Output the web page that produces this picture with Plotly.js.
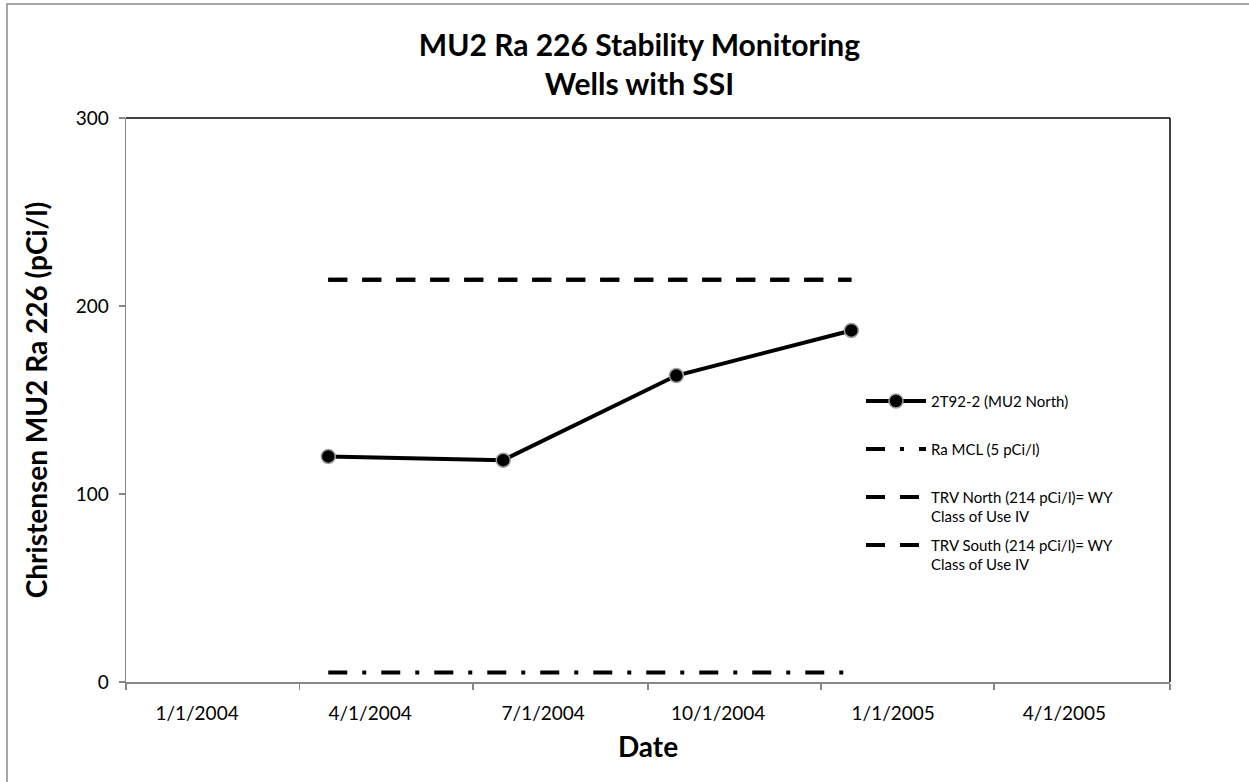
<!DOCTYPE html>
<html><head><meta charset="utf-8">
<script src="https://cdn.plot.ly/plotly-3.0.1.min.js"></script>
<style>html,body{margin:0;padding:0;background:#fff}</style>
</head><body>
<div id="chart" style="width:1249px;height:782px"></div>
<script>
// ---- data ----
const sampleDates = ['2004-03-10', '2004-06-10', '2004-09-09', '2004-12-10'];
const well2T922 = [120, 118, 163, 187];
const raMCL = [5, 5, 5, 5];
const trvNorth = [214, 214, 214, 214];
const trvSouth = [214, 214, 214, 214];
const seriesNames = [
  '2T92-2 (MU2 North)<br> ',
  'Ra MCL (5 pCi/l)<br> ',
  'TRV North (214 pCi/l)= WY<br>Class of Use IV',
  'TRV South (214 pCi/l)= WY<br>Class of Use IV'
];
const xTickDates = ['2004-01-01', '2004-04-01', '2004-07-01', '2004-10-01', '2005-01-01', '2005-04-01'];
const xTickText = ['1/1/2004', '4/1/2004', '7/1/2004', '10/1/2004', '1/1/2005', '4/1/2005'];
const xTickMarks = ['2003-11-24 16:00', '2004-02-24', '2004-05-25', '2004-08-25', '2004-11-24', '2005-02-23', '2005-05-26 12:00'];
const yTicks = [0, 100, 200, 300];

const FONT = 'Lato, "Open Sans", sans-serif';

const traces = [
  {x: sampleDates, y: well2T922, name: seriesNames[0], legendgroup: 'a', type: 'scatter', mode: 'lines+markers',
   line: {color: '#000', width: 4},
   marker: {symbol: 'circle', size: 14, color: '#000', line: {color: '#a0a0a0', width: 1.5}}},
  {x: sampleDates, y: raMCL, name: seriesNames[1], legendgroup: 'b', type: 'scatter', mode: 'lines',
   line: {color: '#000', width: 4, dash: '19px,15px,4px,15px'}},
  {x: sampleDates, y: trvNorth, name: seriesNames[2], legendgroup: 'c', type: 'scatter', mode: 'lines',
   line: {color: '#000', width: 4, dash: '19px,15px'}},
  {x: sampleDates, y: trvSouth, name: seriesNames[3], legendgroup: 'd', type: 'scatter', mode: 'lines',
   line: {color: '#000', width: 4, dash: '19px,15px'}}
];

const layout = {
  width: 1249, height: 782,
  margin: {l: 126, r: 79, t: 118, b: 100},
  paper_bgcolor: '#fff', plot_bgcolor: '#fff',
  font: {family: FONT, color: '#000'},
  showlegend: true,
  title: {text: '<b>MU2 Ra 226 Stability Monitoring<br>Wells with SSI</b>',
          font: {size: 30, family: FONT, color: '#000'},
          x: 0.512, xref: 'container', xanchor: 'center',
          y: 0.928, yref: 'container', yanchor: 'top'},
  xaxis: {
    type: 'date', range: ['2003-11-24 16:00', '2005-05-26 12:00'],
    tickmode: 'array', tickvals: xTickDates, ticktext: xTickText,
    ticks: '', ticklabelstandoff: 14,
    showgrid: false, zeroline: false,
    showline: true, linecolor: '#868686', linewidth: 1.5,
    tickfont: {size: 19, family: FONT, color: '#000'},
    minor: {tickmode: 'array', tickvals: xTickMarks, ticks: 'outside', ticklen: 6,
            tickcolor: '#868686', tickwidth: 1.5, showgrid: false},
    title: {text: '<b>Date</b>', font: {size: 28, family: FONT, color: '#000'}, standoff: 14}
  },
  yaxis: {
    range: [0, 300], tickmode: 'array', tickvals: yTicks,
    ticks: 'outside', ticklen: 6, tickcolor: '#868686', tickwidth: 1.5,
    ticklabelstandoff: 6,
    showline: true, linecolor: '#868686', linewidth: 1.5,
    showgrid: false, zeroline: false,
    tickfont: {size: 19, family: FONT, color: '#000'},
    title: {text: '<b>Christensen MU2 Ra 226 (pCi/l)</b>', font: {size: 28, family: FONT, color: '#000'}, standoff: 20}
  },
  legend: {
    x: 0.704, xanchor: 'left', y: 0.527, yanchor: 'top',
    font: {size: 15, family: FONT, color: '#000'},
    bgcolor: 'rgba(0,0,0,0)', borderwidth: 0,
    itemwidth: 60, valign: 'top', traceorder: 'grouped', tracegroupgap: 6
  },
  shapes: [
    {type: 'line', xref: 'paper', yref: 'paper', x0: 0, x1: 1, y0: 1, y1: 1, line: {color: '#000', width: 1.5}, layer: 'below'},
    {type: 'line', xref: 'paper', yref: 'paper', x0: 1, x1: 1, y0: 0, y1: 1, line: {color: '#000', width: 1.5}, layer: 'below'},
    {type: 'rect', xref: 'paper', yref: 'paper', x0: -0.114, x1: 1.1, y0: -0.2, y1: 1.202, line: {color: '#8c8c8c', width: 1.5}, layer: 'below'}
  ],
  hovermode: false
};

Plotly.newPlot('chart', traces, layout, {displayModeBar: false, staticPlot: true});
</script>
</body></html>
